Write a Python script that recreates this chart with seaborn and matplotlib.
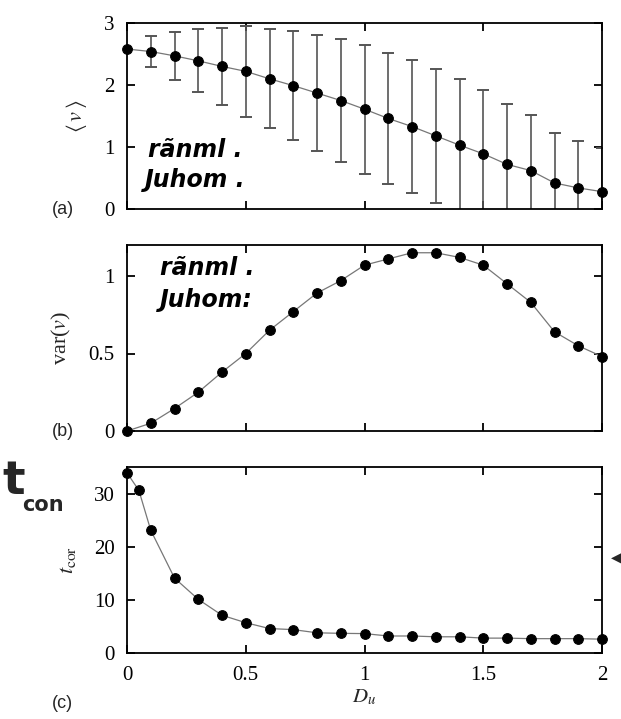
import matplotlib

matplotlib.use("Agg")
import matplotlib.pyplot as plt
import pandas as pd
import seaborn as sns

# panel (a): mean <v> with std error bars, panel (b): var(v), panel (c): t_cor
du_ab = [0.0, 0.1, 0.2, 0.3, 0.4, 0.5, 0.6, 0.7, 0.8, 0.9, 1.0,
         1.1, 1.2, 1.3, 1.4, 1.5, 1.6, 1.7, 1.8, 1.9, 2.0]
mean_v = [2.58, 2.54, 2.47, 2.39, 2.30, 2.22, 2.10, 1.99, 1.87, 1.75, 1.61,
          1.46, 1.33, 1.18, 1.03, 0.89, 0.72, 0.62, 0.42, 0.34, 0.28]
err_v = [0.0, 0.25, 0.39, 0.51, 0.62, 0.73, 0.80, 0.88, 0.94, 0.99, 1.04,
         1.06, 1.07, 1.08, 1.07, 1.03, 0.97, 0.90, 0.81, 0.75, 0.70]
var_v = [0.0, 0.05, 0.145, 0.25, 0.38, 0.50, 0.65, 0.77, 0.89, 0.97, 1.07,
         1.11, 1.15, 1.15, 1.12, 1.07, 0.95, 0.83, 0.64, 0.55, 0.48]

du_c = [0.0, 0.05, 0.1, 0.2, 0.3, 0.4, 0.5, 0.6, 0.7, 0.8, 0.9, 1.0,
        1.1, 1.2, 1.3, 1.4, 1.5, 1.6, 1.7, 1.8, 1.9, 2.0]
t_cor = [33.9, 30.6, 23.1, 14.1, 10.1, 7.1, 5.7, 4.6, 4.4, 3.8, 3.7, 3.65,
         3.2, 3.2, 3.05, 3.05, 2.8, 2.8, 2.7, 2.7, 2.7, 2.6]

xticks = [0, 0.5, 1, 1.5, 2]
xtick_labels = ["0", "0.5", "1", "1.5", "2"]

sns.set_theme(style="ticks")
plt.rcParams["font.family"] = ["Liberation Serif", "DejaVu Serif"]
plt.rcParams["mathtext.fontset"] = "stix"

fig = plt.figure(figsize=(6.21, 7.19), dpi=100)
left, width, height = 127 / 621, 475 / 621, 186 / 719
bottoms = [1 - 209 / 719, 1 - 431 / 719, 1 - 653 / 719]
axes = [fig.add_axes([left, b, width, height]) for b in bottoms]

panels = [
    (du_ab, mean_v, (0, 3), [0, 1, 2, 3], ["0", "1", "2", "3"], r"$\langle\, v\, \rangle$", "(a)"),
    (du_ab, var_v, (0, 1.2), [0, 0.5, 1], ["0", "0.5", "1"], r"var($v$)", "(b)"),
    (du_c, t_cor, (0, 35), [0, 10, 20, 30], ["0", "10", "20", "30"], r"$t_{\mathrm{cor}}$", "(c)"),
]

for ax, (x, y, ylim, yt, ytl, ylab, tag) in zip(axes, panels):
    df = pd.DataFrame({"x": x, "y": y})
    if tag == "(a)":
        ax.errorbar(x, y, yerr=err_v, fmt="none", ecolor="#555555",
                    elinewidth=1.2, capsize=4, capthick=1.4, zorder=2)
    n_before = len(ax.lines)
    sns.lineplot(data=df, x="x", y="y", ax=ax, color="#777777", linewidth=0.9,
                 marker="o", markersize=7, markerfacecolor="black",
                 markeredgecolor="black", zorder=3)
    for line in ax.lines[n_before:]:
        line.set_clip_on(False)
    ax.set_xlim(0, 2)
    ax.set_ylim(*ylim)
    ax.set_xticks(xticks)
    ax.set_yticks(yt, labels=ytl)
    ax.tick_params(direction="in", length=6, width=1.3, top=True, right=True,
                   labelsize=15, pad=9, colors="black")
    for s in ax.spines.values():
        s.set_linewidth(1.3)
        s.set_color("black")
    ax.set_ylabel(ylab, fontsize=16, labelpad=11)
    ax.set_xlabel("")
    if tag == "(c)":
        ax.set_xticks(xticks, labels=xtick_labels)
        ax.set_xlabel(r"$D_u$", fontsize=15, labelpad=2)
        ax.text(-0.135, -0.27, tag, transform=ax.transAxes, fontsize=13,
                family="Liberation Sans", ha="center", va="center")
    else:
        ax.tick_params(labelbottom=False)
        ax.text(-0.135, 0.0, tag, transform=ax.transAxes, fontsize=13,
                family="Liberation Sans", ha="center", va="center")

# handwritten notes scribbled on the figure
hand = dict(fontsize=17, fontweight="bold", family="DejaVu Sans", style="italic",
            color="black", ha="left", va="center")
fig.text(148 / 621, 1 - 150 / 719, "rãnml .", **hand)
fig.text(145 / 621, 1 - 180 / 719, "Juhom .", **hand)
fig.text(160 / 621, 1 - 268 / 719, "rãnml .", **hand)
fig.text(160 / 621, 1 - 300 / 719, "Juhom:", **hand)
fig.text(2 / 621, 1 - 482 / 719, "t", fontsize=34, fontweight="bold",
         family="DejaVu Sans", ha="left", va="center")
fig.text(22 / 621, 1 - 505 / 719, "con", fontsize=15, fontweight="bold",
         family="DejaVu Sans", ha="left", va="center")
fig.text(611 / 621, 1 - 557 / 719, "◀", fontsize=10, family="DejaVu Sans",
         ha="left", va="center")

fig.savefig("out.png", dpi=100)
